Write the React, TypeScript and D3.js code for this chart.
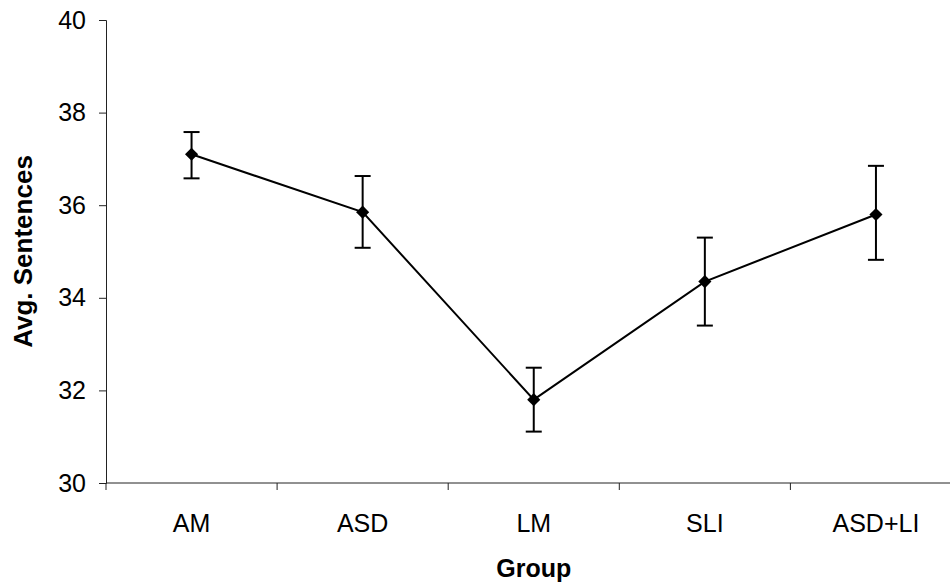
import React, { useEffect, useRef } from 'react';
import * as d3 from 'd3';

// values
const groups = ['AM', 'ASD', 'LM', 'SLI', 'ASD+LI'];
const means = [37.1, 35.85, 31.8, 34.35, 35.8];
const errLow = [36.58, 35.08, 31.11, 33.4, 34.82];
const errHigh = [37.58, 36.63, 32.49, 35.3, 36.85];
const yTicks = [30, 32, 34, 36, 38, 40];

export default function App() {
  const ref = useRef<SVGSVGElement>(null);

  useEffect(() => {
    const svg = d3.select(ref.current);
    svg.selectAll('*').remove();

    const left = 106, right = 961.5, top = 20, bottom = 483;
    const font = '"Liberation Sans", Arial, sans-serif';

    const x = d3.scaleBand().domain(groups).range([left, right]);
    const y = d3.scaleLinear().domain([30, 40]).range([bottom, top]);

    const data = groups.map((g, i) => ({ g, m: means[i], lo: errLow[i], hi: errHigh[i] }));
    const cx = (g: string) => (x(g) as number) + x.bandwidth() / 2;

    // y axis
    const yAxis = svg.append('g')
      .attr('transform', `translate(${left},0)`)
      .call(d3.axisLeft(y).tickValues(yTicks).tickSize(7).tickPadding(13).tickFormat(d3.format('d')));
    yAxis.select('.domain').attr('stroke', '#222');
    yAxis.selectAll('.tick line').attr('stroke', '#222');
    yAxis.selectAll('.tick text').attr('font-family', font).attr('font-size', 25).attr('fill', '#000');

    // x axis (ticks between categories)
    const xAxis = svg.append('g').attr('transform', `translate(0,${bottom})`);
    xAxis.append('line').attr('x1', left).attr('x2', right).attr('stroke', '#222');
    xAxis.selectAll('.xt')
      .data(groups.map(g => x(g) as number).concat([right]))
      .join('line')
      .attr('class', 'xt')
      .attr('x1', d => d).attr('x2', d => d)
      .attr('y1', 0).attr('y2', 7)
      .attr('stroke', '#222');
    xAxis.selectAll('.xl')
      .data(groups)
      .join('text')
      .attr('class', 'xl')
      .attr('x', d => cx(d))
      .attr('y', 49)
      .attr('text-anchor', 'middle')
      .attr('font-family', font)
      .attr('font-size', 25)
      .text(d => d);

    // axis titles
    svg.append('text')
      .attr('x', (left + right) / 2)
      .attr('y', 577)
      .attr('text-anchor', 'middle')
      .attr('font-family', font)
      .attr('font-weight', 'bold')
      .attr('font-size', 25)
      .text('Group');

    svg.append('text')
      .attr('transform', `translate(32,${(top + bottom) / 2}) rotate(-90)`)
      .attr('text-anchor', 'middle')
      .attr('font-family', font)
      .attr('font-weight', 'bold')
      .attr('font-size', 26)
      .text('Avg. Sentences');

    // connecting line
    const line = d3.line<typeof data[0]>().x(d => cx(d.g)).y(d => y(d.m));
    svg.append('path')
      .datum(data)
      .attr('d', line)
      .attr('fill', 'none')
      .attr('stroke', '#000')
      .attr('stroke-width', 2);

    // error bars
    const eb = svg.selectAll('.eb').data(data).join('g').attr('class', 'eb');
    eb.append('line')
      .attr('x1', d => cx(d.g)).attr('x2', d => cx(d.g))
      .attr('y1', d => y(d.lo)).attr('y2', d => y(d.hi))
      .attr('stroke', '#000').attr('stroke-width', 2);
    eb.append('line')
      .attr('x1', d => cx(d.g) - 8).attr('x2', d => cx(d.g) + 8)
      .attr('y1', d => y(d.hi)).attr('y2', d => y(d.hi))
      .attr('stroke', '#000').attr('stroke-width', 2);
    eb.append('line')
      .attr('x1', d => cx(d.g) - 8).attr('x2', d => cx(d.g) + 8)
      .attr('y1', d => y(d.lo)).attr('y2', d => y(d.lo))
      .attr('stroke', '#000').attr('stroke-width', 2);

    // diamond markers
    svg.selectAll('.pt')
      .data(data)
      .join('path')
      .attr('class', 'pt')
      .attr('d', d3.symbol(d3.symbolDiamond2, 110))
      .attr('transform', d => `translate(${cx(d.g)},${y(d.m)})`)
      .attr('fill', '#000');
  }, []);

  return (
    <svg ref={ref} width={950} height={582} style={{ position: 'absolute', left: 0, top: 0, background: '#fff' }} />
  );
}
